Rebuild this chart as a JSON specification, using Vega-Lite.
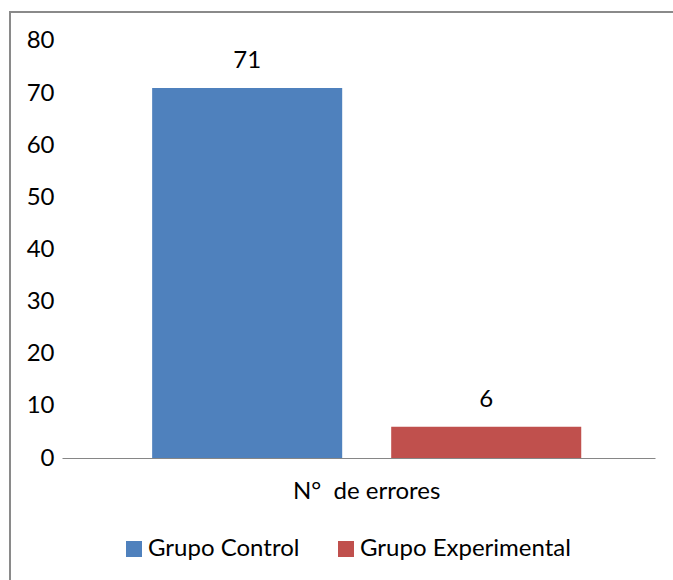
{
  "$schema": "https://vega.github.io/schema/vega-lite/v6.json",
  "width": 700,
  "height": 600,
  "autosize": {"type": "none"},
  "padding": {"left": 10, "top": 12, "right": 0, "bottom": 0},
  "background": "white",
  "config": {
    "view": {"stroke": "#8a8a8a", "strokeWidth": 2},
    "font": "Lato"
  },
  "data": {
    "values": [
      {"cat": "N°\u00a0\u00a0de errores", "grupo": "Grupo Control", "valor": 71},
      {"cat": "N°\u00a0\u00a0de errores", "grupo": "Grupo Experimental", "valor": 6}
    ]
  },
  "encoding": {
    "x": {
      "field": "cat",
      "type": "nominal",
      "title": null,
      "scale": {"range": [52, 645], "paddingInner": 0, "paddingOuter": 0.191, "align": 0.55},
      "axis": {
        "offset": -154,
        "ticks": false,
        "domainColor": "#868686",
        "domainWidth": 1,
        "labelFontSize": 24,
        "labelPadding": 21,
        "labelAngle": 0,
        "labelColor": "#000000",
        "labelLimit": 400
      }
    },
    "xOffset": {
      "field": "grupo",
      "type": "nominal",
      "scale": {"paddingInner": 0.205, "paddingOuter": 0}
    },
    "y": {
      "field": "valor",
      "type": "quantitative",
      "scale": {"domain": [-29.544, 85.563], "nice": false, "zero": false},
      "axis": {
        "title": null,
        "offset": -52,
        "domain": false,
        "ticks": false,
        "grid": false,
        "values": [0, 10, 20, 30, 40, 50, 60, 70, 80],
        "labelFontSize": 24,
        "labelPadding": 8,
        "labelColor": "#000000"
      }
    }
  },
  "layer": [
    {
      "mark": {"type": "bar"},
      "encoding": {
        "y2": {"datum": 0},
        "color": {
          "field": "grupo",
          "type": "nominal",
          "scale": {"domain": ["Grupo Control", "Grupo Experimental"], "range": ["#4F81BD", "#C0504D"]},
          "legend": {
            "title": null,
            "orient": "none",
            "legendX": 112,
            "legendY": 525,
            "direction": "horizontal",
            "symbolType": "square",
            "symbolSize": 256,
            "symbolStrokeWidth": 0,
            "symbolOpacity": 1,
            "labelFontSize": 24,
            "labelColor": "#000000",
            "labelOffset": 2,
            "labelLimit": 400,
            "columnPadding": 34
          }
        }
      }
    },
    {
      "mark": {"type": "text", "dy": -20, "baseline": "alphabetic", "fontSize": 24, "color": "#000000"},
      "encoding": {"text": {"field": "valor", "type": "quantitative"}}
    }
  ]
}
